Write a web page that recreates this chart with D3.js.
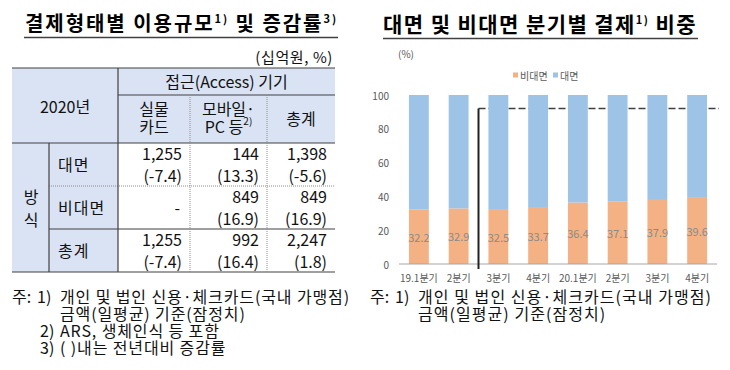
<!DOCTYPE html>
<html>
<head>
<meta charset="utf-8">
<script src="https://cdn.jsdelivr.net/npm/d3@7"></script>
<style>
  body { margin: 0; background: #fff; }
  text { font-family: "Noto Sans CJK KR", "Noto Sans", sans-serif; }
</style>
</head>
<body>
<div id="vis"></div>
<script>
// ---- Data: table (left) ----
const rowLabels = ['대면', '비대면', '총계'];
const colLabels = [['실물', '카드'], ['모바일·', 'PC 등'], ['총계']];
const amounts = [
    [1255, 144, 1398],
    [null, 849, 849],
    [1255, 992, 2247]
];
const changes = [
    [-7.4, 13.3, -5.6],
    [null, 16.9, 16.9],
    [-7.4, 16.4, 1.8]
];
const notesLeft = [
    ['주:', '1)', '개인 및 법인 신용·체크카드(국내 가맹점)'],
    ['', '', '금액(일평균) 기준(잠정치)'],
    ['', '2)', 'ARS, 생체인식 등 포함'],
    ['', '3)', '( )내는 전년대비 증감률']
];

// ---- Data: chart (right) ----
const quarters = ['19.1분기', '2분기', '3분기', '4분기', '20.1분기', '2분기', '3분기', '4분기'];
const nonFace = [32.2, 32.9, 32.5, 33.7, 36.4, 37.1, 37.9, 39.6];
const face = [67.8, 67.1, 67.5, 66.3, 63.6, 62.9, 62.1, 60.4];
const yTicks = [0, 20, 40, 60, 80, 100];
const refLevel = 92;

const headerFill = '#dae3f3';
const orange = '#f4b183';
const blue = '#9dc3e6';

const svg = d3.select('#vis')
    .append('svg')
    .attr('width', 730)
    .attr('height', 370);

svg.append('rect').attr('width', 730).attr('height', 370).attr('fill', '#fff');

// stretch a text to a given width with letter-spacing
function fit(t, target) {
    const w = t.node().getComputedTextLength();
    const n = t.text().length;
    const ls = (target - w) / n;
    t.attr('letter-spacing', ls);
    return ls;
}

// title with superscripts; parts = [[text, isSup], ...]
function drawTitle(x, y, size, parts, target, ulx0, ulx1, uly) {
    const t = svg.append('text')
        .attr('x', x)
        .attr('y', y)
        .attr('font-size', size)
        .attr('font-weight', 'bold')
        .attr('fill', '#000');
    let shift = 0;
    parts.forEach(p => {
        const sp = t.append('tspan').text(p[0]);
        if (p[1]) {
            sp.attr('font-size', 11).attr('dy', -8);
            shift = 8;
        } else if (shift) {
            sp.attr('dy', shift);
            shift = 0;
        }
    });
    fit(t, target);
    svg.append('line')
        .attr('x1', ulx0).attr('x2', ulx1)
        .attr('y1', uly).attr('y2', uly)
        .attr('stroke', '#404040')
        .attr('stroke-width', 1.5);
}

drawTitle(25, 31, 20, [['결제형태별 이용규모', false], ['1)', true], [' 및 증감률', false], ['3)', true]], 313, 24, 338, 37.5);
drawTitle(383, 32, 21, [['대면 및 비대면 분기별 결제', false], ['1)', true], [' 비중', false]], 314, 383, 698, 38.5);

// ---- Table ----
const colX = [12, 49, 118, 190, 267, 335];
const rowY = [68, 95, 143, 186, 229, 272];
const tbl = svg.append('g');

// backgrounds
tbl.append('rect').attr('x', colX[0]).attr('y', rowY[0])
    .attr('width', colX[5] - colX[0]).attr('height', rowY[2] - rowY[0])
    .attr('fill', headerFill);
tbl.append('rect').attr('x', colX[0]).attr('y', rowY[2])
    .attr('width', colX[2] - colX[0]).attr('height', rowY[5] - rowY[2])
    .attr('fill', headerFill);

function hline(x1, x2, y, dotted) {
    tbl.append('line').attr('x1', x1).attr('x2', x2).attr('y1', y).attr('y2', y)
        .attr('stroke', dotted ? '#8c8c8c' : '#404040')
        .attr('stroke-width', dotted ? 1 : 1.2)
        .attr('stroke-dasharray', dotted ? '1,1' : null);
}
function vline(x, y1, y2, dotted) {
    tbl.append('line').attr('x1', x).attr('x2', x).attr('y1', y1).attr('y2', y2)
        .attr('stroke', dotted ? '#8c8c8c' : '#404040')
        .attr('stroke-width', dotted ? 1 : 1.2)
        .attr('stroke-dasharray', dotted ? '1,1' : null);
}

hline(colX[0], colX[5], rowY[0]);
hline(colX[2], colX[5], rowY[1]);
hline(colX[0], colX[5], rowY[2]);
hline(colX[1], colX[5], rowY[3], true);
hline(colX[1], colX[5], rowY[4]);
hline(colX[0], colX[5], rowY[5]);
vline(colX[2], rowY[0], rowY[5]);
vline(colX[1], rowY[2], rowY[5]);
vline(colX[3], rowY[1], rowY[5], true);
vline(colX[4], rowY[1], rowY[5], true);

function cellText(x, y, s, anchor, size) {
    return tbl.append('text')
        .attr('x', x).attr('y', y)
        .attr('text-anchor', anchor || 'middle')
        .attr('dominant-baseline', 'central')
        .attr('font-size', size || 16)
        .attr('fill', '#111')
        .text(s);
}

svg.append('text')
    .attr('x', 333).attr('y', 56)
    .attr('text-anchor', 'end')
    .attr('dominant-baseline', 'central')
    .attr('font-size', 15)
    .attr('letter-spacing', 0.6)
    .attr('fill', '#111')
    .text('(십억원, %)');

cellText((colX[0] + colX[2]) / 2, 106, '2020년');
cellText((colX[2] + colX[5]) / 2, 81, '접근(Access) 기기');

colLabels.forEach((lines, i) => {
    const cx = (colX[i + 2] + colX[i + 3]) / 2;
    if (lines.length === 1) {
        cellText(cx, 118, lines[0]);
    } else {
        cellText(cx, 108, lines[0]);
        const t = cellText(cx, 126, lines[1]);
        if (i === 1) {
            t.append('tspan').attr('font-size', 10).attr('dy', -6).text('2)');
        }
    }
});

cellText(31, 196, '방');
cellText(31, 219, '식');

const fmtAmt = d3.format(',');
rowLabels.forEach((lab, r) => {
    const top = rowY[r + 2];
    cellText(58, top + 21, lab, 'start').attr('letter-spacing', 1);
    amounts[r].forEach((v, c) => {
        const right = colX[c + 3] - 8;
        if (v === null) {
            cellText(right - 2, top + 21, '-', 'end');
        } else {
            cellText(right, top + 10, fmtAmt(v), 'end');
            cellText(right, top + 32, '(' + changes[r][c].toFixed(1) + ')', 'end');
        }
    });
});

// ---- Footnotes ----
function drawNotes(x0, y0, notes, width1) {
    let ls = 0;
    notes.forEach((n, i) => {
        const y = y0 + i * 17;
        [[x0, n[0]], [x0 + (i === 0 ? 25 : 28), n[1]], [x0 + 48, n[2]]].forEach((p, k) => {
            if (!p[1]) return;
            const t = svg.append('text')
                .attr('x', p[0]).attr('y', y)
                .attr('dominant-baseline', 'central')
                .attr('font-size', 16)
                .attr('fill', '#111')
                .text(p[1]);
            if (k === 2) {
                if (i === 0) ls = fit(t, width1);
                else t.attr('letter-spacing', ls);
            }
        });
    });
}
drawNotes(12, 296, notesLeft, 290);
drawNotes(370, 296, notesLeft.slice(0, 2), 294);

// ---- Stacked bar chart ----
const xScale = d3.scaleBand()
    .domain(d3.range(quarters.length))
    .range([399, 717])
    .paddingInner(0.5)
    .paddingOuter(0.25);
const yScale = d3.scaleLinear()
    .domain([0, 100])
    .range([264, 95]);

const tableData = quarters.map((q, i) => ({ i: i, nonFace: nonFace[i], face: face[i] }));
const series = d3.stack().keys(['nonFace', 'face'])(tableData);
const colorScale = d3.scaleOrdinal(['nonFace', 'face'], [orange, blue]);

const chart = svg.append('g');

// reference line (behind bars)
const divX = (xScale(1) + xScale.bandwidth() + xScale(2)) / 2;
chart.append('line')
    .attr('x1', divX).attr('x2', 719)
    .attr('y1', yScale(refLevel)).attr('y2', yScale(refLevel))
    .attr('stroke', '#404040')
    .attr('stroke-width', 1.5)
    .attr('stroke-dasharray', '7,3');

chart.selectAll('.layer')
    .data(series)
    .join('g')
    .attr('class', 'layer')
    .attr('fill', d => colorScale(d.key))
    .selectAll('rect')
    .data(d => d)
    .join('rect')
    .attr('x', d => xScale(d.data.i))
    .attr('y', d => yScale(d[1]))
    .attr('width', xScale.bandwidth())
    .attr('height', d => yScale(d[0]) - yScale(d[1]));

chart.selectAll('.val')
    .data(tableData)
    .join('text')
    .attr('class', 'val')
    .attr('x', d => xScale(d.i) + xScale.bandwidth() / 2)
    .attr('y', d => yScale(d.nonFace / 2))
    .attr('text-anchor', 'middle')
    .attr('dominant-baseline', 'central')
    .attr('font-size', 11)
    .attr('fill', '#8a8a8a')
    .text(d => d.nonFace.toFixed(1));

chart.append('line')
    .attr('x1', 399).attr('x2', 717)
    .attr('y1', yScale(0)).attr('y2', yScale(0))
    .attr('stroke', '#a6a6a6');

chart.append('line')
    .attr('x1', divX).attr('x2', divX)
    .attr('y1', yScale(refLevel)).attr('y2', 269)
    .attr('stroke', '#222')
    .attr('stroke-width', 2);

// y tick labels
chart.selectAll('.ytick')
    .data(yTicks)
    .join('text')
    .attr('class', 'ytick')
    .attr('x', 389)
    .attr('y', d => yScale(d))
    .attr('text-anchor', 'end')
    .attr('dominant-baseline', 'central')
    .attr('font-size', 10)
    .attr('fill', '#595959')
    .text(d => d);

// x labels
chart.selectAll('.xtick')
    .data(tableData)
    .join('text')
    .attr('class', 'xtick')
    .attr('x', d => xScale(d.i) + xScale.bandwidth() / 2)
    .attr('y', 277)
    .attr('text-anchor', 'middle')
    .attr('dominant-baseline', 'central')
    .attr('font-size', 10)
    .attr('fill', '#595959')
    .text(d => quarters[d.i]);

chart.append('text')
    .attr('x', 398).attr('y', 53)
    .attr('dominant-baseline', 'central')
    .attr('font-size', 10)
    .attr('fill', '#595959')
    .text('(%)');

// legend
const legendItems = [['비대면', orange, 513], ['대면', blue, 553]];
legendItems.forEach(l => {
    chart.append('rect')
        .attr('x', l[2]).attr('y', 72.5)
        .attr('width', 5).attr('height', 5)
        .attr('fill', l[1]);
    chart.append('text')
        .attr('x', l[2] + 7).attr('y', 75)
        .attr('dominant-baseline', 'central')
        .attr('font-size', 10)
        .attr('fill', '#595959')
        .text(l[0]);
});
</script>
</body>
</html>
